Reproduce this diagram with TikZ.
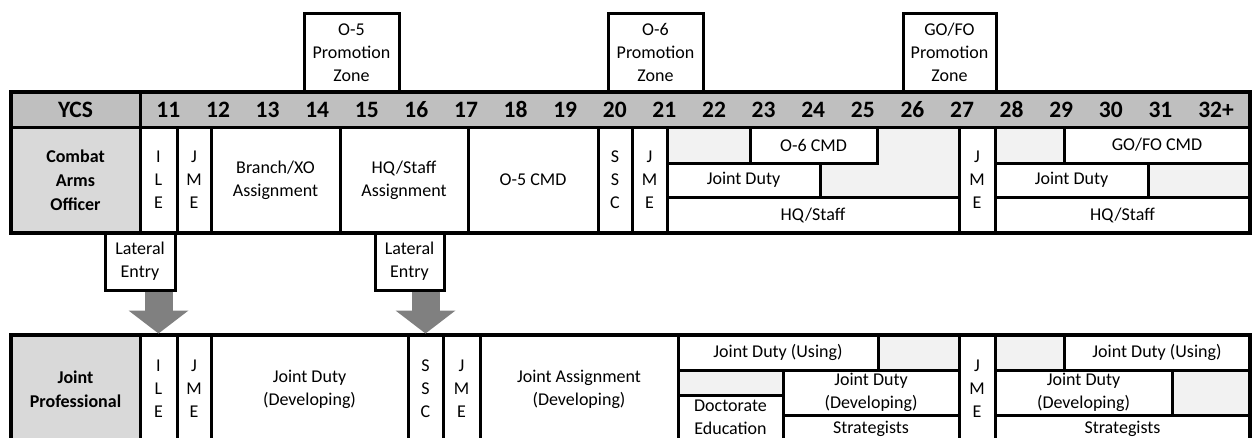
\documentclass[tikz,border=0pt]{standalone}
\usepackage{fontspec}
\setmainfont{Carlito}
\usetikzlibrary{positioning,arrows.meta}

\definecolor{hdrgrey}{gray}{0.75}
\definecolor{lblgrey}{gray}{0.85}
\definecolor{gapgrey}{gray}{0.95}
\definecolor{arrgrey}{gray}{0.5}

\begin{document}
\begin{tikzpicture}[x=1pt, y=-1pt]
  \useasboundingbox (0,0) rectangle (1252,437);

  \tikzset{cell/.style 2 args={draw, line width=3pt, outer sep=0pt, inner sep=0pt,
      minimum width=#1, minimum height=#2, anchor=north west, align=center,
      fill=white, font=\fontsize{18}{23}\selectfont}}
  \tikzset{rowhead/.style={fill=lblgrey, font=\bfseries\fontsize{18}{24}\selectfont}}
  \tikzset{gapcell/.style={fill=gapgrey}}
  \tikzset{yearnum/.style={font=\bfseries\fontsize{23.5}{28}\selectfont,
      text height=15pt, text depth=0pt, inner sep=0pt}}
  \tikzset{frame/.style={line width=3.5pt}}
  \tikzset{fatarrow/.style={arrgrey, line width=28pt, shorten <=1.5pt, shorten >=1.5pt,
      -{Triangle[width=60pt, length=23pt, line width=0pt]}}}

  % promotion zones
  \node[cell={95}{79}] (pz5) at (304,13) {O-5\\Promotion\\Zone};
  \node[cell={95}{79}] (pz6) at (608,13) {O-6\\Promotion\\Zone};
  \node[cell={93}{79}] (pzgo) at (903,13) {GO/FO\\Promotion\\Zone};

  % year header
  \node[cell={129}{35}, fill=hdrgrey, font=\bfseries\fontsize{23.5}{28}\selectfont] (ycs) at (11,92) {YCS};
  \node[cell={1110}{35}, fill=hdrgrey] (yrs) at (140,92) {};
  \foreach \yr [count=\i from 0] in {11,...,31}
    \node[yearnum] (yr\yr) at ({168.4+49.6*\i},110) {\yr};
  \node[yearnum] (yr32) at (1216,110) {32+};

  % combat arms officer
  \node[cell={129}{106}, rowhead] (combat) at (11,127) {Combat\\Arms\\Officer};
  \node[cell={37}{106}] (ile1) at (140,127) {I\\L\\E};
  \node[cell={34}{106}] (jme1) at (177,127) {J\\M\\E};
  \node[cell={129}{106}] (branch) at (211,127) {Branch/XO\\Assignment};
  \node[cell={128}{106}] (hqasg) at (340,127) {HQ/Staff\\Assignment};
  \node[cell={130}{106}] (o5cmd) at (468,127) {O-5 CMD};
  \node[cell={34}{106}] (ssc1) at (598,127) {S\\S\\C};
  \node[cell={35}{106}] (jme2) at (632,127) {J\\M\\E};
  \node[cell={292}{106}, gapcell] (blka) at (667,127) {};
  \node[cell={127}{36}] (o6cmd) at (750,127) {O-6 CMD};
  \node[cell={153}{34}] (jduty1) at (667,163) {Joint Duty};
  \node[cell={292}{36}] (hqstaff1) at (667,197) {HQ/Staff};
  \node[cell={36}{106}] (jme3) at (959,127) {J\\M\\E};
  \node[cell={255}{106}, gapcell] (blkb) at (995,127) {};
  \node[cell={186}{36}] (gocmd) at (1064,127) {GO/FO CMD};
  \node[cell={153}{34}] (jduty2) at (995,163) {Joint Duty};
  \node[cell={255}{36}] (hqstaff2) at (995,197) {HQ/Staff};
  \draw[frame] (ycs.north west) rectangle (hqstaff2.south east);

  % lateral entry
  \node[cell={70}{57}] (lat1) at (105,233) {Lateral\\Entry};
  \node[cell={69}{57}] (lat2) at (375,233) {Lateral\\Entry};

  % joint professional
  \node[cell={129}{108}, rowhead] (jprof) at (11,335) {Joint\\Professional};
  \node[cell={37}{108}] (ile2) at (140,335) {I\\L\\E};
  \node[cell={34}{108}] (jme4) at (177,335) {J\\M\\E};
  \node[cell={197}{108}] (jdev1) at (211,335) {Joint Duty\\(Developing)};
  \node[cell={35}{108}] (ssc2) at (408,335) {S\\S\\C};
  \node[cell={37}{108}] (jme5) at (443,335) {J\\M\\E};
  \node[cell={198}{108}] (jasg) at (480,335) {Joint Assignment\\(Developing)};
  \node[cell={281}{108}, gapcell] (blkc) at (678,335) {};
  \node[cell={200}{35}] (juse1) at (678,335) {Joint Duty (Using)};
  \node[cell={105}{44}] (doc) at (678,395) {Doctorate\\Education};
  \node[cell={176}{45}] (jdev2) at (783,370) {Joint Duty\\(Developing)};
  \node[cell={176}{28}] (strat1) at (783,415) {Strategists};
  \node[cell={36}{108}] (jme6) at (959,335) {J\\M\\E};
  \node[cell={255}{108}, gapcell] (blkd) at (995,335) {};
  \node[cell={186}{35}] (juse2) at (1064,335) {Joint Duty (Using)};
  \node[cell={177}{45}] (jdev3) at (995,370) {Joint Duty\\(Developing)};
  \node[cell={255}{28}] (strat2) at (995,415) {Strategists};
  \draw[frame] (jprof.north west) rectangle (strat2.south east);

  \draw[fatarrow] (lat1.south -| ile2.north) -- (ile2.north);
  \draw[fatarrow] (lat2.south -| ssc2.north) -- (ssc2.north);
\end{tikzpicture}
\end{document}
